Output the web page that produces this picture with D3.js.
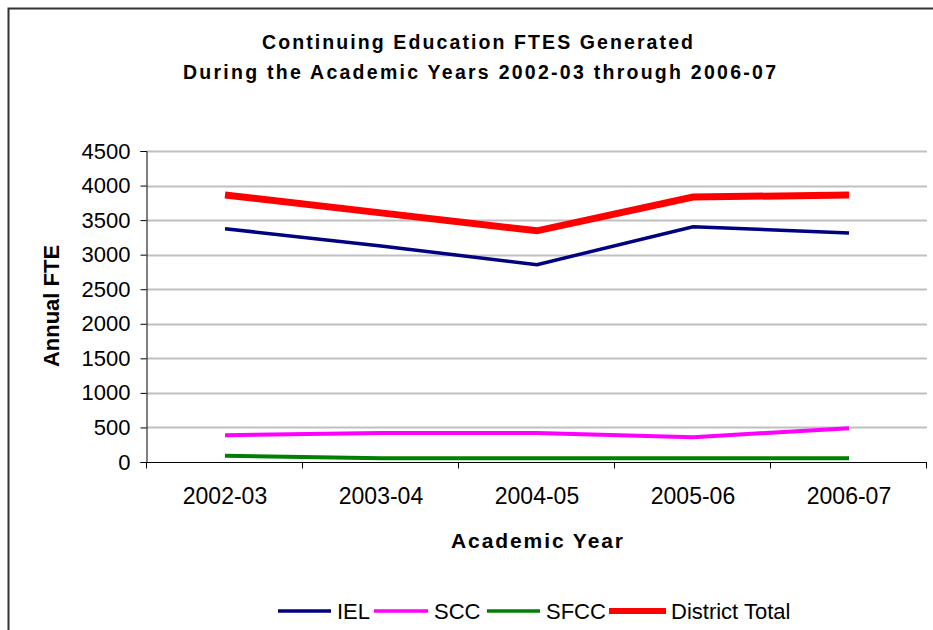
<!DOCTYPE html>
<html>
<head>
<meta charset="utf-8">
<script src="https://cdn.jsdelivr.net/npm/d3@7"></script>
<style>
  html, body { margin: 0; padding: 0; background: #fff; }
  svg { display: block; font-family: "Liberation Sans", Arial, sans-serif; }
</style>
</head>
<body>
<svg id="chart" width="933" height="630"></svg>
<script>
// Academic years on the x axis
const years = ["2002-03", "2003-04", "2004-05", "2005-06", "2006-07"];

// Annual FTES by campus
const iel = [3376, 3125, 2855, 3405, 3314];
const scc = [388, 420, 420, 358, 490];
const sfcc = [90, 55, 55, 55, 55];
const districtTotal = [3863, 3605, 3345, 3835, 3862];

const yTicks = [0, 500, 1000, 1500, 2000, 2500, 3000, 3500, 4000, 4500];

const seriesNames = ["IEL", "SCC", "SFCC", "District Total"];
const seriesValues = [iel, scc, sfcc, districtTotal];
const seriesColors = ["#000080", "#FF00FF", "#008000", "#FF0000"];
const seriesWidths = [3.5, 4, 4, 7];

const svg = d3.select("#chart");
const W = 933, H = 630;
const plot = { left: 147, right: 927, top: 151, bottom: 462 };

// outer chart frame (only top and left edges fall inside the view)
svg.append("path")
  .attr("d", `M8.5,${H} V8.5 H${W}`)
  .attr("fill", "none")
  .attr("stroke", "#333")
  .attr("stroke-width", 2);

const x = d3.scaleBand().domain(years).range([plot.left, plot.right]);
const y = d3.scaleLinear().domain([0, 4500]).range([plot.bottom, plot.top]);

// horizontal gridlines
svg.append("g")
  .selectAll("line")
  .data(yTicks.filter(d => d > 0))
  .join("line")
  .attr("x1", plot.left)
  .attr("x2", plot.right)
  .attr("y1", d => Math.round(y(d)) + 0.5)
  .attr("y2", d => Math.round(y(d)) + 0.5)
  .attr("stroke", "#c0c0c0")
  .attr("stroke-width", 2);

// y axis
const yAxis = svg.append("g")
  .attr("transform", `translate(${plot.left - 0.5},0)`)
  .call(d3.axisLeft(y).tickValues(yTicks).tickSize(6).tickPadding(10).tickFormat(d3.format("d")));
yAxis.select(".domain").attr("stroke", "#000");
yAxis.selectAll(".tick line").attr("stroke", "#000");
yAxis.selectAll("text")
  .attr("font-size", 22)
  .attr("fill", "#000")
  .attr("font-family", "Liberation Sans, Arial, sans-serif");

// x axis: ticks at the band boundaries, labels centered in each band
const xAxisG = svg.append("g")
  .attr("transform", `translate(0,${plot.bottom + 0.5})`);
xAxisG.append("line")
  .attr("x1", plot.left).attr("x2", plot.right)
  .attr("stroke", "#000");
const bounds = years.map(d => x(d)).concat([plot.right]);
xAxisG.selectAll("line.tick")
  .data(bounds)
  .join("line")
  .attr("class", "tick")
  .attr("x1", d => Math.round(d) - 0.5).attr("x2", d => Math.round(d) - 0.5)
  .attr("y1", 0).attr("y2", 6)
  .attr("stroke", "#000");
xAxisG.selectAll("text")
  .data(years)
  .join("text")
  .attr("x", d => x(d) + x.bandwidth() / 2)
  .attr("y", 41)
  .attr("text-anchor", "middle")
  .attr("font-size", 23)
  .attr("fill", "#000")
  .text(d => d);

// series lines
const line = d3.line()
  .x((d, i) => x(years[i]) + x.bandwidth() / 2)
  .y(d => y(d));

svg.append("g")
  .selectAll("path")
  .data(seriesValues.map((v, i) => ({ values: v, i })))
  .join("path")
  .attr("d", d => line(d.values))
  .attr("fill", "none")
  .attr("stroke", d => seriesColors[d.i])
  .attr("stroke-width", d => seriesWidths[d.i])
  .attr("stroke-linejoin", "miter");

// titles
const title = svg.append("g").attr("font-weight", "bold").attr("fill", "#000");
title.append("text")
  .attr("x", 477.5).attr("y", 49)
  .attr("text-anchor", "middle")
  .attr("font-size", 19.5)
  .attr("textLength", 431)
  .attr("lengthAdjust", "spacing")
  .text("Continuing Education FTES Generated");
title.append("text")
  .attr("x", 479.5).attr("y", 79)
  .attr("text-anchor", "middle")
  .attr("font-size", 19.5)
  .attr("textLength", 593)
  .attr("lengthAdjust", "spacing")
  .text("During the Academic Years 2002-03 through 2006-07");

svg.append("text")
  .attr("x", 537).attr("y", 548)
  .attr("text-anchor", "middle")
  .attr("font-size", 21)
  .attr("font-weight", "bold")
  .attr("textLength", 172)
  .attr("lengthAdjust", "spacing")
  .text("Academic Year");

svg.append("text")
  .attr("transform", "translate(59,306) rotate(-90)")
  .attr("text-anchor", "middle")
  .attr("font-size", 22)
  .attr("font-weight", "bold")
  .text("Annual FTE");

// legend
const legendItems = [
  { x: 278, tx: 337 },
  { x: 374, tx: 434 },
  { x: 487, tx: 546 },
  { x: 609, tx: 671 }
];
const legendLen = [53, 54, 53, 57];
const legend = svg.append("g");
legend.selectAll("line")
  .data(seriesNames)
  .join("line")
  .attr("x1", (d, i) => legendItems[i].x)
  .attr("x2", (d, i) => legendItems[i].x + legendLen[i])
  .attr("y1", 611).attr("y2", 611)
  .attr("stroke", (d, i) => seriesColors[i])
  .attr("stroke-width", (d, i) => i === 3 ? 6 : 3.5);
legend.selectAll("text")
  .data(seriesNames)
  .join("text")
  .attr("x", (d, i) => legendItems[i].tx)
  .attr("y", 619)
  .attr("font-size", 22)
  .attr("fill", "#000")
  .text(d => d);
</script>
</body>
</html>
